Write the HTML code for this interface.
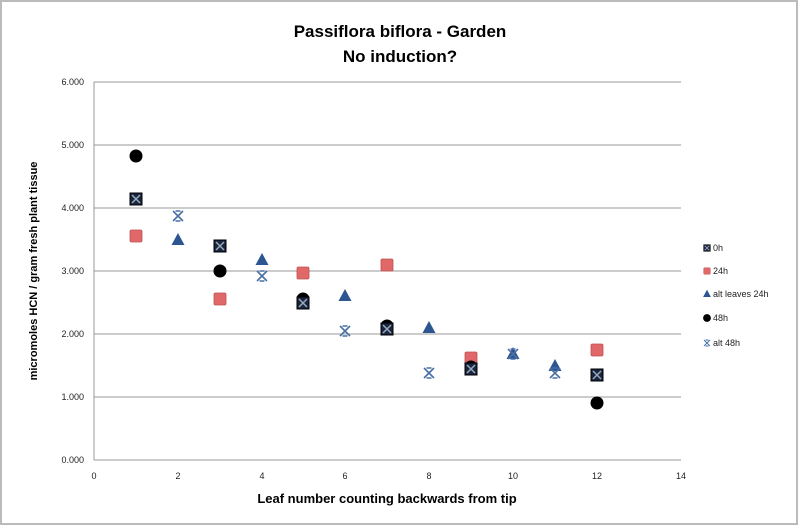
<!DOCTYPE html>
<html><head><style>
html,body{margin:0;padding:0;background:#fff}
svg{display:block}
text{font-family:"Liberation Sans",sans-serif}
</style></head><body>
<svg width="800" height="526" xmlns="http://www.w3.org/2000/svg">
<defs>
<g id="sq0"><rect x="-6" y="-6" width="12" height="12" fill="#1a2540" stroke="#000" stroke-width="1"/><path d="M-4,-4L4,4M4,-4L-4,4" stroke="#9ab" stroke-width="1.5"/></g>
<g id="sq24"><rect x="-6" y="-6" width="12" height="12" rx="1.5" fill="#e06868" stroke="#c05050" stroke-width="0.8"/></g>
<g id="tri"><path d="M0,-7L6.5,5H-6.5Z" fill="#2c5591"/></g>
<g id="circ"><circle r="6.5" fill="#000"/></g>
<g id="x48"><path d="M-5,-5L5,5M5,-5L-5,5M-2.5,-5H2.5M-2.5,5H2.5" stroke="#4a6fa5" stroke-width="1.6" fill="none"/></g>
</defs>
<rect x="1" y="1" width="796" height="523" fill="#fff" stroke="#bbb" stroke-width="2"/>
<text x="400" y="37" text-anchor="middle" font-size="17" font-weight="bold">Passiflora biflora - Garden</text>
<text x="400" y="62" text-anchor="middle" font-size="17" font-weight="bold">No induction?</text>
<g stroke="#999" stroke-width="1">
<line x1="94" y1="82" x2="681" y2="82"/><line x1="94" y1="145" x2="681" y2="145"/>
<line x1="94" y1="208" x2="681" y2="208"/><line x1="94" y1="271" x2="681" y2="271"/>
<line x1="94" y1="334" x2="681" y2="334"/><line x1="94" y1="397" x2="681" y2="397"/>
<line x1="94" y1="460" x2="681" y2="460"/><line x1="94" y1="82" x2="94" y2="460"/>
</g>
<g font-size="9" text-anchor="end" fill="#222">
<text x="84" y="85">6.000</text><text x="84" y="148">5.000</text><text x="84" y="211">4.000</text>
<text x="84" y="274">3.000</text><text x="84" y="337">2.000</text><text x="84" y="400">1.000</text><text x="84" y="463">0.000</text>
</g>
<g font-size="9" text-anchor="middle" fill="#222">
<text x="94" y="479">0</text><text x="178" y="479">2</text><text x="262" y="479">4</text><text x="345" y="479">6</text>
<text x="429" y="479">8</text><text x="513" y="479">10</text><text x="597" y="479">12</text><text x="681" y="479">14</text>
</g>
<text x="387" y="503" text-anchor="middle" font-size="13" font-weight="bold">Leaf number counting backwards from tip</text>
<text transform="translate(37,271) rotate(-90)" text-anchor="middle" font-size="11" font-weight="bold">micromoles HCN / gram fresh plant tissue</text>
<use href="#sq24" x="136" y="236"/><use href="#sq24" x="220" y="299"/><use href="#sq24" x="303" y="273"/>
<use href="#sq24" x="387" y="265"/><use href="#sq24" x="471" y="358"/><use href="#sq24" x="597" y="350"/>
<use href="#tri" x="178" y="240"/><use href="#tri" x="262" y="260"/><use href="#tri" x="345" y="296"/>
<use href="#tri" x="429" y="328"/><use href="#tri" x="513" y="354"/><use href="#tri" x="555" y="366"/>
<use href="#circ" x="136" y="156"/><use href="#circ" x="220" y="271"/><use href="#circ" x="303" y="299"/>
<use href="#circ" x="387" y="326"/><use href="#circ" x="471" y="367"/><use href="#circ" x="597" y="403"/>
<use href="#sq0" x="136" y="199"/><use href="#sq0" x="220" y="246"/><use href="#sq0" x="303" y="303"/>
<use href="#sq0" x="387" y="329"/><use href="#sq0" x="471" y="369"/><use href="#sq0" x="597" y="375"/>
<use href="#x48" x="178" y="216"/><use href="#x48" x="262" y="276"/><use href="#x48" x="345" y="331"/>
<use href="#x48" x="429" y="373"/><use href="#x48" x="513" y="354"/><use href="#x48" x="555" y="373"/>
<g font-size="9" fill="#222">
<use href="#sq0" transform="translate(707,248) scale(0.55)"/><text x="713" y="251">0h</text>
<use href="#sq24" transform="translate(707,271) scale(0.55)"/><text x="713" y="274">24h</text>
<use href="#tri" transform="translate(707,294) scale(0.6)"/><text x="713" y="297">alt leaves 24h</text>
<use href="#circ" transform="translate(707,318) scale(0.6)"/><text x="713" y="321">48h</text>
<use href="#x48" transform="translate(707,343) scale(0.6)"/><text x="713" y="346">alt 48h</text>
</g>
</svg>
</body></html>
